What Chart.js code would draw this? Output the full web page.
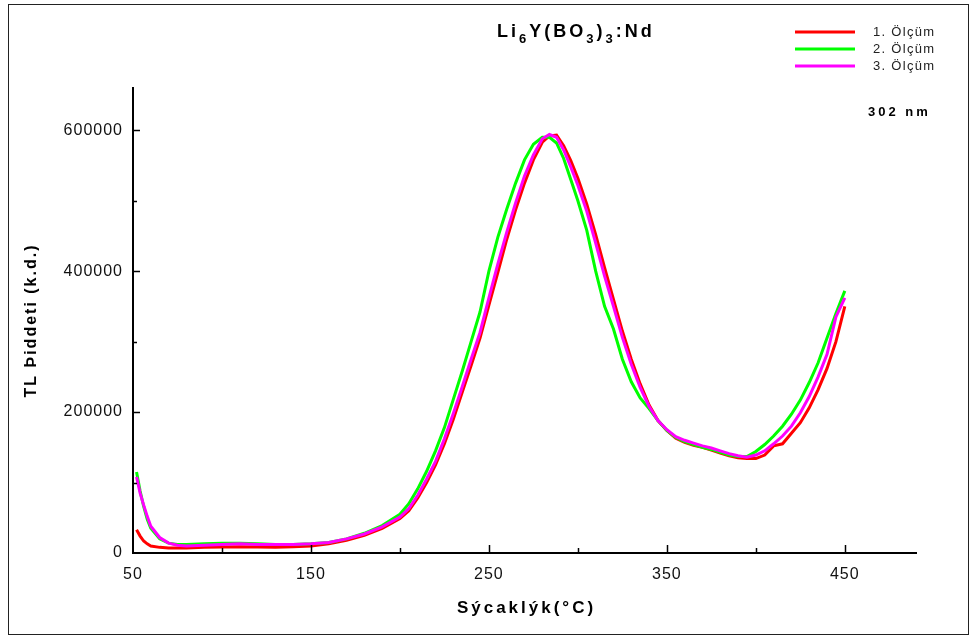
<!DOCTYPE html>
<html>
<head>
<meta charset="utf-8">
<script src="https://cdn.jsdelivr.net/npm/chart.js@4.4.1/dist/chart.umd.min.js"></script>
<style>
    html, body { margin: 0; padding: 0; background: #fff; }
    #wrap { position: relative; width: 980px; height: 639px; }
</style>
</head>
<body>
<div id="wrap"><canvas id="tlChart"></canvas></div>
<script>
// --- data (temperature in °C, intensity in counts) ---
const temps = [52, 54, 56, 58, 60, 65, 70, 75, 80, 90, 100, 110, 120, 130, 140, 150, 160, 170, 180, 190, 200,
    205, 210, 215, 220, 225, 230, 235, 240, 245, 250, 255, 260, 265, 270, 275, 280,
    284, 288, 292, 296, 300,
    305, 310, 315, 320, 325, 330, 335, 340, 345, 350, 355, 360, 365, 370, 375, 380, 385, 390, 395, 400,
    405, 410, 415, 420, 425, 430, 435, 440, 445, 450];

const run1 = [33000, 24000, 17000, 13000, 10000, 8000, 7000, 7000, 7000, 8000, 8500, 9000, 8500, 8000, 9000, 10000, 13000, 18000, 25000, 35000, 49000,
    60000, 78000, 100000, 125000, 155000, 190000, 228000, 266000, 305000, 352000, 398000, 445000, 487000, 525000, 558000, 583000,
    592000, 593000, 578000, 557000, 532000,
    495000, 452000, 405000, 360000, 315000, 275000, 240000, 210000, 188000, 174000, 163000, 157000, 153000, 150000, 146000, 142000, 138000, 135000, 134000, 134000,
    139000, 152000, 155000, 170000, 185000, 206000, 232000, 262000, 300000, 350000];

const run2 = [115000, 88000, 66000, 48000, 35000, 20000, 14000, 12000, 12000, 13000, 14000, 14000, 13000, 12000, 12000, 13000, 15000, 20000, 28000, 39000, 55000,
    70000, 91000, 116000, 145000, 178000, 218000, 258000, 300000, 342000, 400000, 448000, 488000, 525000, 558000, 580000, 590000,
    590000, 582000, 560000, 530000, 500000,
    458000, 400000, 350000, 318000, 275000, 243000, 220000, 205000, 188000, 174000, 164000, 158000, 154000, 150000, 147000, 143000, 139000, 137000, 137000, 144000,
    154000, 166000, 180000, 197000, 217000, 242000, 270000, 305000, 340000, 372000];

const run3 = [108000, 85000, 68000, 52000, 38000, 22000, 14000, 11000, 10000, 11000, 12000, 13000, 12000, 12000, 12000, 13000, 15000, 20000, 27000, 37000, 51000,
    63000, 82000, 105000, 130000, 162000, 198000, 236000, 275000, 313000, 362000, 410000, 455000, 497000, 535000, 565000, 588000,
    594000, 590000, 572000, 548000, 522000,
    485000, 440000, 393000, 350000, 306000, 268000, 235000, 208000, 188000, 175000, 165000, 160000, 156000, 152000, 149000, 145000, 141000, 138000, 136000, 139000,
    145000, 155000, 166000, 180000, 199000, 222000, 250000, 282000, 335000, 362000];

const seriesNames = ['1. Ölçüm', '2. Ölçüm', '3. Ölçüm'];
const xTickValues = [50, 100, 150, 200, 250, 300, 350, 400, 450];
const xTickLabels = [50, 150, 250, 350, 450];
const yTickValues = [0, 100000, 200000, 300000, 400000, 500000, 600000];
const yTickLabels = [0, 200000, 400000, 600000];
const titleParts = [['Li', false], ['6', true], ['Y(BO', false], ['3', true], [')', false], ['3', true], [':Nd', false]];
const noteText = '302 nm';
const xTitle = 'Sýcaklýk(°C)';
const yTitle = 'TL Þiddeti (k.d.)';

const FONT = '"Liberation Sans", Arial, sans-serif';
const colors = ['#ff0000', '#00ff00', '#ff00ff'];

const toPoints = vals => temps.map((t, i) => ({ x: t, y: vals[i] }));

// tick marks pointing into the plot, long for labelled values
const innerTicks = {
    id: 'innerTicks',
    beforeDraw(chart) {
        chart.ctx.letterSpacing = '1px';
    },
    afterDatasetsDraw(chart) {
        const { ctx, chartArea: a, scales: { x, y } } = chart;
        ctx.save();
        ctx.strokeStyle = '#000';
        ctx.lineWidth = 1.5;
        xTickValues.forEach(v => {
            if (v === x.min) return;
            const px = Math.round(x.getPixelForValue(v)) + 0.5;
            const len = xTickLabels.includes(v) ? 8 : 5;
            ctx.beginPath();
            ctx.moveTo(px, a.bottom);
            ctx.lineTo(px, a.bottom - len);
            ctx.stroke();
        });
        yTickValues.forEach(v => {
            if (v === y.min) return;
            const py = Math.round(y.getPixelForValue(v)) + 0.5;
            const len = yTickLabels.includes(v) ? 7 : 4;
            ctx.beginPath();
            ctx.moveTo(a.left, py);
            ctx.lineTo(a.left + len, py);
            ctx.stroke();
        });
        ctx.restore();
    }
};

// title, legend, note, axis titles and frame
const decorations = {
    id: 'decorations',
    afterDraw(chart) {
        const { ctx, chartArea: a } = chart;
        ctx.save();
        ctx.fillStyle = '#000';
        ctx.textBaseline = 'alphabetic';

        // title with subscripts
        ctx.letterSpacing = '3px';
        ctx.textAlign = 'left';
        let tx = 497;
        titleParts.forEach(([txt, sub]) => {
            ctx.font = sub ? 'bold 13px ' + FONT : 'bold 18px ' + FONT;
            ctx.fillText(txt, tx, sub ? 43 : 37);
            tx += ctx.measureText(txt).width;
        });

        // legend
        chart.data.datasets.forEach((ds, i) => {
            const ly = 32 + i * 17;
            ctx.strokeStyle = ds.borderColor;
            ctx.lineWidth = 3;
            ctx.beginPath();
            ctx.moveTo(795, ly);
            ctx.lineTo(855, ly);
            ctx.stroke();
            ctx.font = '13px ' + FONT;
            ctx.letterSpacing = '1.3px';
            ctx.textBaseline = 'middle';
            ctx.fillStyle = '#222';
            ctx.fillText(ds.label, 873, ly);
        });

        // wavelength note
        ctx.textBaseline = 'alphabetic';
        ctx.fillStyle = '#000';
        ctx.font = 'bold 13px ' + FONT;
        ctx.letterSpacing = '3px';
        ctx.fillText(noteText, 868, 116);

        // x axis title
        ctx.font = 'bold 17px ' + FONT;
        ctx.letterSpacing = '3px';
        ctx.textAlign = 'center';
        ctx.textBaseline = 'middle';
        ctx.fillText(xTitle, (a.left + a.right) / 2 + 2, 608);

        // y axis title
        ctx.save();
        ctx.translate(32, (a.top + a.bottom) / 2);
        ctx.rotate(-Math.PI / 2);
        ctx.font = 'bold 16px ' + FONT;
        ctx.letterSpacing = '2px';
        ctx.fillText(yTitle, 0, 0);
        ctx.restore();

        // outer frame
        ctx.strokeStyle = '#222';
        ctx.lineWidth = 1;
        ctx.strokeRect(8.5, 4.5, 960, 630);
        ctx.restore();
    }
};

new Chart(document.getElementById('tlChart'), {
    type: 'line',
    data: {
        datasets: [run1, run2, run3].map((vals, i) => ({
            label: seriesNames[i],
            data: toPoints(vals),
            borderColor: colors[i],
            backgroundColor: colors[i],
            borderWidth: 3,
            pointRadius: 0,
            tension: 0,
            fill: false,
            order: 3 - i
        }))
    },
    options: {
        responsive: true,
        maintainAspectRatio: false,
        animation: false,
        layout: { padding: { left: 0, top: 88, right: 64, bottom: 0 } },
        plugins: {
            legend: { display: false },
            tooltip: { enabled: false },
            title: { display: false }
        },
        scales: {
            x: {
                type: 'linear',
                min: 50,
                max: 490,
                border: { color: '#000', width: 2 },
                grid: { drawOnChartArea: false, drawTicks: false },
                ticks: {
                    autoSkip: false,
                    maxRotation: 0,
                    padding: 12,
                    color: '#111',
                    font: { family: FONT, size: 16 },
                    callback: v => xTickLabels.includes(v) ? String(v) : ''
                },
                afterBuildTicks: s => { s.ticks = xTickValues.map(v => ({ value: v })); },
                afterFit: s => { s.height = 86; }
            },
            y: {
                type: 'linear',
                min: 0,
                max: 660000,
                border: { color: '#000', width: 2 },
                grid: { drawOnChartArea: false, drawTicks: false },
                ticks: {
                    autoSkip: false,
                    padding: 10,
                    color: '#111',
                    font: { family: FONT, size: 16 },
                    callback: v => yTickLabels.includes(v) ? String(v) : ''
                },
                afterBuildTicks: s => { s.ticks = yTickValues.map(v => ({ value: v })); },
                afterFit: s => { s.width = 133; }
            }
        }
    },
    plugins: [innerTicks, decorations]
});
</script>
</body>
</html>
